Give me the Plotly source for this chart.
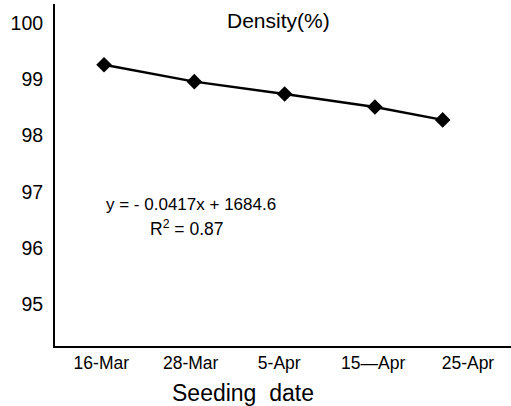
import plotly.graph_objects as go

# Data
seeding_dates = ["16-Mar", "28-Mar", "5-Apr", "15—Apr", "25-Apr"]
point_pos = [1, 2, 3, 4, 4.75]          # horizontal position of each point (category units)
label_pos = [0.97, 1.96, 2.94, 3.98, 5.03]  # horizontal position of each date label
density = [99.26, 98.96, 98.74, 98.51, 98.28]
y_ticks = [95, 96, 97, 98, 99, 100]

FONT = "Liberation Sans, Arial, sans-serif"

fig = go.Figure()
fig.add_trace(go.Scatter(
    x=point_pos, y=density, mode="lines+markers",
    line=dict(color="black", width=2.5),
    marker=dict(symbol="diamond", size=12, color="black"),
    showlegend=False,
))

fig.update_layout(
    width=511, height=406,
    margin=dict(l=55, r=0, t=4, b=60),
    paper_bgcolor="white", plot_bgcolor="white",
    font=dict(family=FONT, color="black", size=18),
    xaxis=dict(
        range=[0.457, 5.507], showgrid=False, zeroline=False, automargin=False,
        showline=True, linecolor="black", linewidth=2,
        tickmode="array", tickvals=label_pos, ticktext=seeding_dates,
        ticks="", tickfont=dict(size=17.5), ticklabelstandoff=0,
    ),
    yaxis=dict(
        range=[94.26, 100.34], showgrid=False, zeroline=False, automargin=False,
        showline=True, linecolor="black", linewidth=2,
        tickmode="array", tickvals=y_ticks, ticks="",
        tickfont=dict(size=19.5), ticklabelstandoff=6,
    ),
    annotations=[
        dict(text="Density(%)", xref="paper", yref="paper", x=0.49, y=0.99,
             xanchor="center", yanchor="top", showarrow=False, font=dict(size=21)),
        dict(text="y = - 0.0417x + 1684.6", xref="x", yref="y", x=1.96, y=96.77,
             xanchor="center", yanchor="middle", showarrow=False, font=dict(size=17)),
        dict(text="R<sup>2</sup> = 0.87", xref="x", yref="y", x=1.91, y=96.36,
             xanchor="center", yanchor="middle", showarrow=False, font=dict(size=17.5)),
        dict(text="Seeding  date", xref="x", yref="paper", x=2.54, y=-0.138,
             xanchor="center", yanchor="middle", showarrow=False, font=dict(size=23)),
    ],
)

fig.write_html("out.html", config={"displayModeBar": False},
               post_script="document.body.style.margin='0';")
